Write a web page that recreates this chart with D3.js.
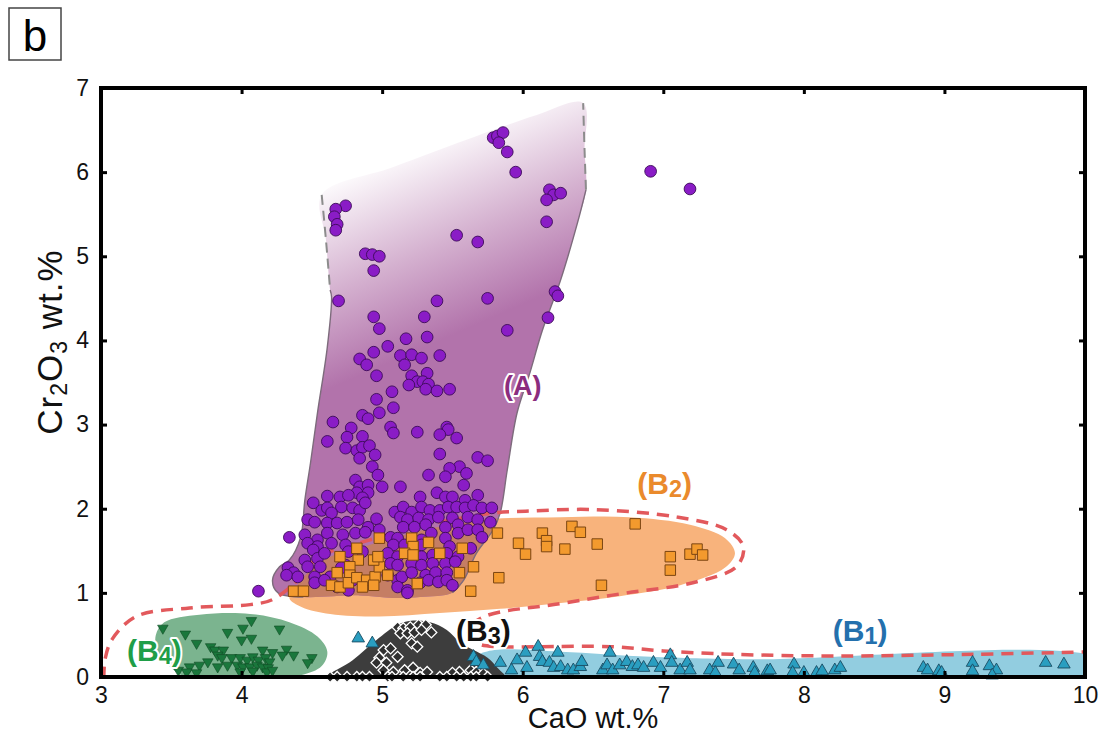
<!DOCTYPE html>
<html><head><meta charset="utf-8">
<script src="https://cdn.jsdelivr.net/npm/d3@7"></script>
<style>
body{margin:0;background:#fff;}
svg{display:block;font-family:"Liberation Sans",Arial,Helvetica,sans-serif;}
</style></head><body>
<svg id="chart" width="1111" height="740"></svg>
<script>
// Axis ticks
const xTicks = [3, 4, 5, 6, 7, 8, 9, 10];
const yTicks = [0, 1, 2, 3, 4, 5, 6, 7];

// Group A analyses (CaO, Cr2O3 wt.%)
const groupA = [
 [5.79,6.41],[5.82,6.43],[5.86,6.47],[5.83,6.35],[5.89,6.24],[5.95,6.00],[6.19,5.79],[6.22,5.73],[6.27,5.75],[6.17,5.67],[6.17,5.41],[5.53,5.25],[5.68,5.17],
 [4.74,5.60],[4.67,5.56],[4.66,5.47],[4.68,5.38],[4.67,5.31],[4.88,5.03],[4.93,5.02],[4.98,5.00],[4.94,4.83],[4.69,4.47],[5.39,4.47],[5.75,4.50],[6.23,4.58],[6.25,4.53],[6.18,4.27],[5.89,4.12],[4.94,4.28],[5.30,4.28],[4.98,4.14],[5.32,4.04],[5.17,4.02],[5.04,3.93],[4.94,3.86],[4.84,3.78],[4.89,3.71],[5.13,3.82],[5.21,3.83],[5.16,3.71],[5.28,3.79],[5.41,3.82],[4.96,3.58],
 [5.21,3.58],[5.25,3.51],[5.32,3.61],[5.29,3.51],[5.33,3.48],[5.19,3.47],[5.31,3.42],[5.39,3.40],[5.48,3.42],[5.07,3.39],[4.96,3.30],[5.08,3.20],[4.98,3.14],[4.86,3.11],[4.90,3.07],[4.65,3.03],[5.06,2.97],[5.08,2.90],[4.78,2.96],[5.25,2.91],[5.46,2.97],[5.47,2.94],[5.41,2.88],[5.53,2.84],[4.61,2.80],[4.75,2.85],[4.86,2.86],[4.74,2.72],[4.82,2.69],[4.86,2.73],[4.91,2.75],[4.84,2.60],[4.95,2.64],[5.41,2.65],[5.68,2.61],[5.75,2.57],[4.93,2.50],[5.55,2.50],[5.60,2.42],[5.48,2.48],[5.45,2.38],[5.33,2.40],[4.97,2.40],[4.81,2.34],[4.84,2.26],[4.90,2.28],[4.82,2.19],[4.90,2.19],[5.00,2.26],[5.13,2.26],[5.58,2.28],[4.61,2.15],[4.70,2.14],[4.76,2.16],[5.27,2.14],[5.39,2.19],[5.45,2.14],[5.50,2.14],[5.68,2.16],
 [6.91,6.01],[7.19,5.80],[4.12,1.02],
 [4.86,2.13],[5.59,2.10],
 [4.51,2.07],[4.57,1.98],[4.61,2.01],[4.71,2.02],[4.79,2.01],[4.84,1.98],[4.88,2.07],[5.09,1.96],[5.15,2.02],[5.21,1.96],[5.28,2.02],[5.34,1.98],[5.41,1.98],[5.47,2.02],[5.53,2.02],[5.59,2.01],[5.65,2.04],[5.71,2.01],[5.78,2.01],[4.64,1.95],
 [4.47,1.87],[4.52,1.84],[4.61,1.83],[4.68,1.83],[4.75,1.84],[4.83,1.87],[4.90,1.78],[4.96,1.88],[5.13,1.90],[5.18,1.87],[5.26,1.89],[5.33,1.87],[5.40,1.90],[5.50,1.89],[5.61,1.90],[5.68,1.87],[5.77,1.84],[5.15,1.78],[5.23,1.78],[5.31,1.81],[5.45,1.78],[5.54,1.81],
 [4.34,1.66],[4.45,1.69],[4.54,1.63],[4.61,1.71],[4.72,1.69],[4.81,1.71],[4.88,1.72],[4.98,1.75],[5.06,1.66],[5.11,1.65],[5.28,1.63],[5.35,1.71],[5.45,1.65],[5.54,1.71],[5.61,1.75],[5.68,1.75],[5.71,1.66],[4.47,1.59],[4.54,1.55],[4.64,1.59],[4.74,1.57],[5.08,1.57],[5.16,1.57],[5.28,1.57],[5.48,1.55],[5.63,1.53],
 [4.51,1.51],[4.45,1.39],[4.54,1.41],[4.59,1.47],[4.76,1.49],[4.86,1.49],[5.04,1.47],[5.11,1.43],[5.21,1.45],[5.28,1.43],[5.36,1.45],[5.46,1.47],[5.54,1.43],[4.47,1.31],[4.56,1.31],[4.74,1.33],[5.06,1.35],[5.11,1.33],[5.21,1.35],[5.28,1.33],[5.36,1.35],[5.45,1.35],[5.52,1.37],
 [4.33,1.30],[4.37,1.24],[4.32,1.21],[4.40,1.19],[4.52,1.19],[4.63,1.19],[4.71,1.30],[4.79,1.15],[5.04,1.21],[5.11,1.15],[5.14,1.19],[5.21,1.24],[5.31,1.21],[5.38,1.24],[5.46,1.24],[4.52,1.12],[4.59,1.15],[4.68,1.07],[4.76,1.03],[5.11,1.07],[5.18,1.03],[5.27,1.12],[5.33,1.15],[5.40,1.13],[5.46,1.15],[5.50,1.09],[5.18,1.00]
];

// Group B2 analyses
const groupB2 = [
 [4.37,1.02],[4.44,1.02],[4.70,1.43],[4.82,1.53],[4.83,1.39],[4.77,1.31],[4.68,1.24],[4.77,1.21],[4.64,1.09],[4.70,1.07],[4.76,1.12],[4.82,1.18],[4.89,1.15],[4.95,1.19],[4.98,1.31],[4.94,1.39],[4.97,1.43],[5.04,1.21],[4.86,1.07],[4.94,1.09],
 [4.98,1.65],[5.21,1.65],[5.22,1.55],[5.16,1.47],[5.22,1.45],[5.33,1.60],[5.41,1.47],[5.57,1.53],[5.55,1.24],[5.25,1.11],[5.65,1.31],[5.63,1.02],
 [5.82,1.71],[5.97,1.59],[6.02,1.46],[6.14,1.71],[6.17,1.62],[6.17,1.55],[6.30,1.52],[6.35,1.79],[6.41,1.72],[6.53,1.58],[6.80,1.82],[7.05,1.43],[7.05,1.27],[7.19,1.46],[7.24,1.52],[7.28,1.45],[5.83,1.18],[6.56,1.09]
];

// Group B3 analyses
const groupB3 = [
 [5.11,0.59],[5.15,0.58],[5.20,0.59],[5.26,0.62],[5.31,0.62],[5.13,0.52],[5.18,0.52],[5.23,0.53],[5.28,0.56],[5.35,0.53],[5.21,0.40],[5.25,0.36],[5.01,0.32],[5.06,0.34],[5.11,0.24],[4.98,0.23],[4.96,0.17],[5.03,0.17],[5.01,0.08],[5.08,0.06],[5.16,0.08],[5.22,0.11],[5.27,0.05],[5.32,0.06],[5.55,0.06],[5.63,0.08],[5.67,0.06],[5.72,0.04],[5.50,0.05],
 [4.63,0],[4.68,0],[4.75,0],[4.82,0],[4.86,0],[4.91,0],[5.04,0],[5.07,0],[5.15,0],[5.22,0],[5.27,0],[5.41,0],[5.46,0],[5.53,0],[5.58,0],[5.63,0],[5.67,0],[5.75,0]
];

// Group B1 analyses
const groupB1 = [
 [4.83,0.46],[4.93,0.40],
 [5.65,0.24],[5.67,0.18],[5.72,0.14],[5.84,0.17],[5.92,0.08],[5.96,0.20],[6.02,0.29],[6.03,0.11],[6.11,0.36],[6.12,0.24],[6.14,0.18],[6.19,0.17],[6.25,0.29],[6.22,0.11],[6.27,0.12],[6.32,0.08],[6.36,0.08],[6.41,0.12],[6.42,0.18],[6.57,0.08],[6.60,0.14],[6.62,0.29],[6.64,0.08],[6.69,0.14],[6.74,0.18],[6.78,0.12],[6.82,0.14],[6.86,0.11],[6.93,0.17],[6.98,0.11],[7.05,0.26],[7.06,0.17],[7.12,0.08],[7.17,0.17],[7.19,0.08],[7.33,0.08],[7.39,0.17],[7.37,0.05],[7.50,0.15],[7.54,0.08],[7.64,0.11],[7.65,0.05],[7.74,0.07],[7.76,0.08],[7.93,0.15],[7.92,0.05],[8.00,0.05],[8.09,0.05],[8.13,0.07],[8.22,0.08],[8.26,0.11],[8.85,0.11],[8.88,0.08],[8.96,0.07],[8.98,0.05],[9.20,0.17],[9.20,0.07],[9.32,0.13],[9.37,0.08],[9.34,0.02],[9.72,0.17],[9.85,0.15]
];

// Group B4 analyses
const groupB4 = [
 [3.44,0.58],[3.60,0.51],[3.68,0.40],[3.78,0.36],[3.81,0.32],[3.87,0.32],[3.90,0.53],[4.01,0.58],[4.07,0.67],[4.00,0.44],[4.07,0.46],[4.15,0.32],[4.27,0.57],[4.32,0.33],[4.22,0.29],[4.37,0.26],[4.50,0.23],[4.47,0.17],[3.83,0.26],[3.86,0.23],[3.93,0.23],[3.99,0.23],[4.04,0.20],[4.08,0.24],[4.12,0.20],[4.17,0.23],[4.20,0.18],[4.29,0.26],[3.76,0.18],[3.70,0.14],[3.90,0.14],[3.97,0.14],[4.01,0.12],[4.06,0.12],[4.11,0.14],[4.15,0.12],[4.19,0.11],[3.63,0.12],[3.55,0.08],[3.61,0.06],[3.68,0.05],[3.99,0.06],[4.08,0.07],[4.18,0.06],[4.22,0.08],[3.83,0.12]
];

// Field outlines (CaO, Cr2O3)
const fieldALeftDash  = [[4.57,5.73],[4.60,5.20],[4.63,4.60]];
const fieldALeftSolid = [[4.63,4.60],[4.64,4.52],[4.61,3.92],[4.54,3.14],[4.49,2.54],[4.45,2.10],[4.42,1.66],[4.34,1.39],[4.27,1.31],[4.22,1.15],[4.26,1.00],[4.44,0.95]];
const fieldABottom    = [[4.84,0.97],[5.08,0.94],[5.27,0.95]];
const fieldARightSolid= [[5.50,1.00],[5.58,1.15],[5.67,1.47],[5.79,1.75],[5.84,1.95],[5.89,2.46],[5.96,3.14],[6.05,3.61],[6.14,4.12],[6.27,4.72],[6.39,5.40],[6.45,5.79]];
const fieldARightDash = [[6.45,5.79],[6.44,6.26],[6.43,6.82]];
const fieldATop       = [[6.43,6.82],[6.10,6.68],[5.79,6.50],[5.08,6.06],[4.57,5.73]];

const fieldB2 = [[4.34,0.94],[4.40,1.10],[4.52,1.32],[4.66,1.45],[4.83,1.53],[5.04,1.63],[5.30,1.75],[5.54,1.82],[5.80,1.88],[6.27,1.90],[6.76,1.90],[7.19,1.81],[7.44,1.65],[7.51,1.47],[7.44,1.30],[7.12,1.09],[6.69,0.96],[6.27,0.88],[5.84,0.81],[5.41,0.76],[4.98,0.72],[4.63,0.75],[4.43,0.83]];
const fieldB4 = [[3.39,0.50],[3.45,0.65],[3.70,0.74],[4.06,0.75],[4.34,0.65],[4.54,0.48],[4.61,0.30],[4.57,0.13],[4.42,0.02],[4.06,-0.02],[3.63,-0.02],[3.48,0.14],[3.40,0.32]];
const fieldB3 = [[4.60,-0.02],[4.79,0.20],[4.96,0.44],[5.11,0.62],[5.22,0.67],[5.34,0.65],[5.46,0.56],[5.55,0.42],[5.65,0.32],[5.75,0.23],[5.82,0.11],[5.88,-0.02]];
const fieldB1 = [[5.64,-0.02],[5.62,0.17],[5.68,0.26],[5.80,0.32],[6.27,0.30],[6.91,0.24],[7.62,0.21],[10.1,0.21],[10.1,-0.02]];
const envelopeB = [[3.02,-0.02],[3.03,0.22],[3.08,0.45],[3.25,0.72],[3.63,0.82],[4.06,0.86],[4.22,0.92],[4.40,1.15],[4.52,1.39],[4.66,1.51],[4.83,1.59],[5.04,1.69],[5.30,1.81],[5.54,1.88],[5.80,1.95],[6.02,1.97],[6.50,1.99],[7.10,1.90],[7.45,1.75],[7.57,1.55],[7.52,1.31],[7.21,1.12],[6.74,1.00],[6.26,0.87],[5.73,0.72],[5.61,0.56],[5.68,0.40],[5.84,0.36],[6.10,0.36],[6.63,0.36],[7.00,0.31],[7.49,0.27],[8.23,0.25],[9.21,0.27],[10.05,0.30]];

// Field labels: text, subscript, anchor (CaO, Cr2O3), colour
const fieldLabels = [
 {main:"(A)", sub:"", at:[6.00,3.35], color:"#8b2d7e", size:27},
 {main:"(B", sub:"2", at:[7.01,2.18], color:"#ea8a2c", size:30},
 {main:"(B", sub:"3", at:[5.72,0.43], color:"#111111", size:30},
 {main:"(B", sub:"1", at:[8.40,0.43], color:"#2470ad", size:30},
 {main:"(B", sub:"4", at:[3.38,0.19], color:"#1f9e48", size:30}
];

const svg = d3.select("#chart");
const x = d3.scaleLinear().domain([3, 10]).range([101, 1085]);
const y = d3.scaleLinear().domain([0, 7]).range([677, 88]);

const defs = svg.append("defs");
defs.append("clipPath").attr("id", "plotClip")
  .append("rect").attr("x", x(3)).attr("y", y(7)).attr("width", x(10) - x(3)).attr("height", y(0) - y(7));

const grad = defs.append("linearGradient").attr("id", "gradA")
  .attr("gradientUnits", "userSpaceOnUse")
  .attr("x1", x(5.0)).attr("y1", y(6.2)).attr("x2", x(5.55)).attr("y2", y(4.1));
grad.append("stop").attr("offset", 0).attr("stop-color", "#ffffff");
grad.append("stop").attr("offset", 0.55).attr("stop-color", "#d4b0cf");
grad.append("stop").attr("offset", 1).attr("stop-color", "#b273ab");

const lineC = d3.line().x(d => x(d[0])).y(d => y(d[1])).curve(d3.curveCatmullRom.alpha(0.5));
const lineClosed = d3.line().x(d => x(d[0])).y(d => y(d[1])).curve(d3.curveCatmullRomClosed.alpha(0.5));

const fieldAOutline = [
  ...fieldALeftDash, ...fieldALeftSolid.slice(1), ...fieldABottom,
  ...fieldARightSolid, ...fieldARightDash.slice(1), ...fieldATop.slice(1, -1)
];

const plot = svg.append("g").attr("clip-path", "url(#plotClip)");

// Fields
plot.append("path").attr("d", lineClosed(fieldB1)).attr("fill", "#92cde0");
plot.append("path").attr("d", lineClosed(fieldB3)).attr("fill", "#3d3d3d");
plot.append("path").attr("d", lineClosed(fieldB4)).attr("fill", "#7bb48f");
plot.append("path").attr("d", lineClosed(fieldB2)).attr("fill", "#f8b37c");
plot.append("path").attr("d", lineClosed(fieldAOutline)).attr("fill", "url(#gradA)");
defs.append("clipPath").attr("id", "clipA").append("path").attr("d", lineClosed(fieldAOutline));
plot.append("path").attr("d", lineClosed(fieldB2)).attr("fill", "#c57e64").attr("clip-path", "url(#clipA)");

// Field A boundaries
plot.append("path").attr("d", lineC(fieldALeftSolid)).attr("fill", "none").attr("stroke", "#7d6b7c").attr("stroke-width", 1.4);
plot.append("path").attr("d", lineC(fieldARightSolid)).attr("fill", "none").attr("stroke", "#7d6b7c").attr("stroke-width", 1.4);
plot.append("path").attr("d", lineC(fieldALeftDash)).attr("fill", "none").attr("stroke", "#8c8c8c").attr("stroke-width", 2).attr("stroke-dasharray", "10 6");
plot.append("path").attr("d", lineC(fieldARightDash)).attr("fill", "none").attr("stroke", "#8c8c8c").attr("stroke-width", 2).attr("stroke-dasharray", "10 6");

// Envelope of the B groups
plot.append("path").attr("d", lineC(envelopeB)).attr("fill", "none")
  .attr("stroke", "#e2595c").attr("stroke-width", 3.5).attr("stroke-dasharray", "12 8");

// Markers
const pts = svg.append("g");
const sym = (type, size) => d3.symbol().type(type).size(size)();

pts.selectAll(".a").data(groupA).join("path").attr("class", "a")
  .attr("d", sym(d3.symbolCircle, 108))
  .attr("transform", d => `translate(${x(d[0])},${y(d[1])})`)
  .attr("fill", "#8a1cc6").attr("stroke", "#3c0b58").attr("stroke-width", 0.9);

pts.selectAll(".b2").data(groupB2).join("path").attr("class", "b2")
  .attr("d", sym(d3.symbolSquare, 110))
  .attr("transform", d => `translate(${x(d[0])},${y(d[1])})`)
  .attr("fill", "#f39a2e").attr("stroke", "#7a4512").attr("stroke-width", 1);

pts.selectAll(".b3").data(groupB3).join("path").attr("class", "b3")
  .attr("d", sym(d3.symbolSquare, 60))
  .attr("transform", d => `translate(${x(d[0])},${y(d[1])}) rotate(45)`)
  .attr("fill", "#303030").attr("stroke", "#ffffff").attr("stroke-width", 1.3);

pts.selectAll(".b4").data(groupB4).join("path").attr("class", "b4")
  .attr("d", sym(d3.symbolTriangle, 48))
  .attr("transform", d => `translate(${x(d[0])},${y(d[1])}) rotate(180)`)
  .attr("fill", "#1a773c").attr("stroke", "#0f4a24").attr("stroke-width", 0.6);

pts.selectAll(".b1").data(groupB1).join("path").attr("class", "b1")
  .attr("d", sym(d3.symbolTriangle, 68))
  .attr("transform", d => `translate(${x(d[0])},${y(d[1])})`)
  .attr("fill", "#2a9ec0").attr("stroke", "#1a4c62").attr("stroke-width", 0.9);

// Field labels
const lab = svg.append("g").attr("font-weight", "bold");
fieldLabels.forEach(l => {
  const t = lab.append("text")
    .attr("x", x(l.at[0])).attr("y", y(l.at[1]))
    .attr("text-anchor", "middle")
    .attr("font-size", l.size)
    .attr("fill", l.color)
    .attr("stroke", "#ffffff").attr("stroke-width", 4).attr("stroke-linejoin", "round")
    .attr("paint-order", "stroke");
  t.append("tspan").text(l.main);
  if (l.sub) {
    t.append("tspan").attr("font-size", l.size * 0.78).attr("dy", 3).text(l.sub);
    t.append("tspan").attr("dy", -3).text(")");
  }
});

// Axes with inward ticks on all four sides
const axisStyle = g => {
  g.select(".domain").remove();
  g.selectAll(".tick line").attr("stroke", "#000").attr("stroke-width", 3);
  g.selectAll(".tick text").attr("font-size", 23).attr("fill", "#111")
    .attr("font-family", "'Liberation Sans', Arial, sans-serif");
};
svg.append("g").attr("transform", `translate(0,${y(0)})`)
  .call(d3.axisBottom(x).tickValues(xTicks).tickSize(-6).tickPadding(10).tickFormat(d3.format("d")))
  .call(axisStyle);
svg.append("g").attr("transform", `translate(${x(3)},0)`)
  .call(d3.axisLeft(y).tickValues(yTicks).tickSize(-6).tickPadding(12).tickFormat(d3.format("d")))
  .call(axisStyle);
svg.append("g").attr("transform", `translate(0,${y(7)})`)
  .call(d3.axisTop(x).tickValues(xTicks).tickSize(-6).tickFormat(""))
  .call(axisStyle);
svg.append("g").attr("transform", `translate(${x(10)},0)`)
  .call(d3.axisRight(y).tickValues(yTicks).tickSize(-6).tickFormat(""))
  .call(axisStyle);

// Frame
svg.append("rect").attr("x", x(3)).attr("y", y(7))
  .attr("width", x(10) - x(3)).attr("height", y(0) - y(7))
  .attr("fill", "none").attr("stroke", "#000").attr("stroke-width", 4);

// Axis titles
svg.append("text").attr("x", (x(3) + x(10)) / 2).attr("y", 728)
  .attr("text-anchor", "middle").attr("font-size", 29).attr("fill", "#111")
  .text("CaO wt.%");

const yt = svg.append("text")
  .attr("transform", `translate(62,342) rotate(-90)`)
  .attr("text-anchor", "middle").attr("font-size", 35).attr("fill", "#111")
  .attr("letter-spacing", 1);
yt.append("tspan").text("Cr");
yt.append("tspan").attr("font-size", 23).attr("dy", 5).text("2");
yt.append("tspan").attr("dy", -5).text("O");
yt.append("tspan").attr("font-size", 23).attr("dy", 5).text("3");
yt.append("tspan").attr("dy", -5).text(" wt.%");

// Panel letter
svg.append("rect").attr("x", 9).attr("y", 8).attr("width", 52).attr("height", 52)
  .attr("fill", "#fff").attr("stroke", "#444").attr("stroke-width", 1.5);
svg.append("text").attr("x", 35).attr("y", 51).attr("text-anchor", "middle")
  .attr("font-size", 44).attr("fill", "#000").text("b");
</script>
</body></html>
